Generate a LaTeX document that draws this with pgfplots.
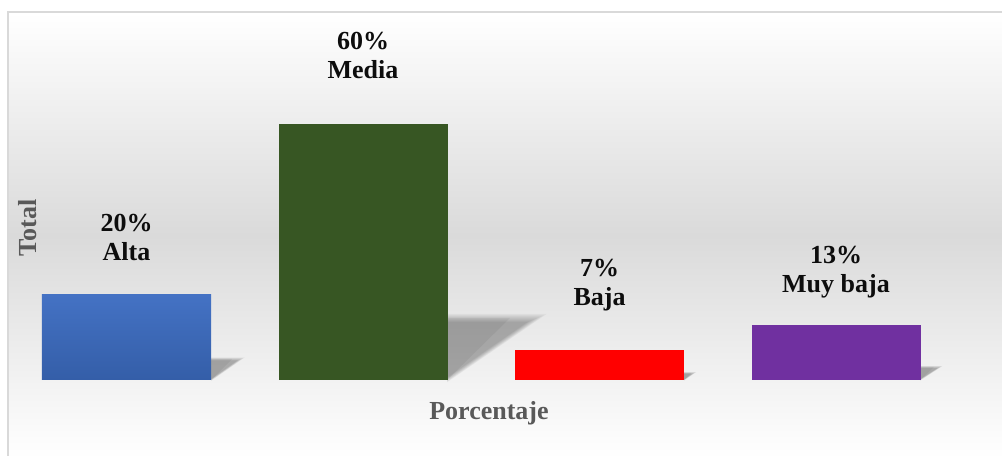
\documentclass[border=0pt]{standalone}
\usepackage{pgfplots}
\pgfplotsset{compat=1.18}
\usepackage{fontspec}
\setmainfont{Liberation Serif}
\definecolor{blueT}{HTML}{4472C4}
\definecolor{blueB}{HTML}{345EA8}
\definecolor{greenB}{HTML}{375623}
\definecolor{purpleB}{HTML}{7030A0}
\definecolor{lblgray}{HTML}{595959}
\definecolor{txt}{HTML}{0D0D0D}
\definecolor{framec}{HTML}{D9D9D9}
\definecolor{bgmid}{HTML}{DADADA}
\begin{document}
\begin{tikzpicture}
\begin{scope}[x=0.75pt,y=0.75pt]
\useasboundingbox (0,0) rectangle (1002,456);
\begin{scope}
\clip (0,0) rectangle (1002,456);
\fill[white] (0,0) rectangle (1002,456);
\shade[top color=white, bottom color=white, middle color=bgmid] (7.5,-2) rectangle (1004,443.5);
\draw[framec, line width=1.5] (7.5,-10) -- (7.5,443.5) -- (1010,443.5);
% soft shadows
\foreach \R/\dx/\dy/\s in {211/30/21/0.4, 447/90/62/1, 684/10/7/0.25, 920/20/13/0.3} {
  \foreach \e in {-8,-6,...,8} {
    \fill[black, opacity=0.035] (\R,76-0.3*\s*\e) -- (\R,76+\dy+0.5*\s*\e) -- (\R+\dx+1.2*\s*\e,76+\dy+0.5*\s*\e) -- cycle;
  }
  \fill[black, opacity=0.05] (\R,76) -- (\R,76+\dy) -- (\R+0.7*\dx,76+\dy) -- cycle;
}
\end{scope}
\end{scope}
\begin{axis}[
  at={(6.1875pt,57pt)}, anchor=south west,
  scale only axis, width=709.5pt, height=192pt,
  xmin=-0.5, xmax=3.5, ymin=0, ymax=60,
  hide axis, clip=false,
  ybar, bar width=126.75pt,
]
\addplot[draw=none, top color=blueT, bottom color=blueB, bar shift=0pt] coordinates {(0,20)};
\addplot[draw=none, fill=greenB, bar shift=0pt] coordinates {(1,60)};
\addplot[draw=none, fill=red, bar shift=0pt] coordinates {(2,7)};
\addplot[draw=none, fill=purpleB, bar shift=0pt] coordinates {(3,13)};
\tikzset{lbl/.style={txt, font=\bfseries\fontsize{19.5}{21.5}\selectfont, align=center}}
\node[lbl] at (axis cs:0,33.4) {20\%\\Alta};
\node[lbl] at (axis cs:1,76.0) {60\%\\Media};
\node[lbl] at (axis cs:2,22.2) {7\%\\Baja};
\node[lbl] at (axis cs:3,25.3) {13\%\\Muy baja};
\end{axis}
\begin{scope}[x=0.75pt,y=0.75pt]
\node[rotate=90, lblgray, font=\bfseries\fontsize{19.5}{23}\selectfont] at (28,228) {Total};
\node[lblgray, font=\bfseries\fontsize{19.5}{23}\selectfont] at (489,43) {Porcentaje};
\end{scope}
\end{tikzpicture}
\end{document}
